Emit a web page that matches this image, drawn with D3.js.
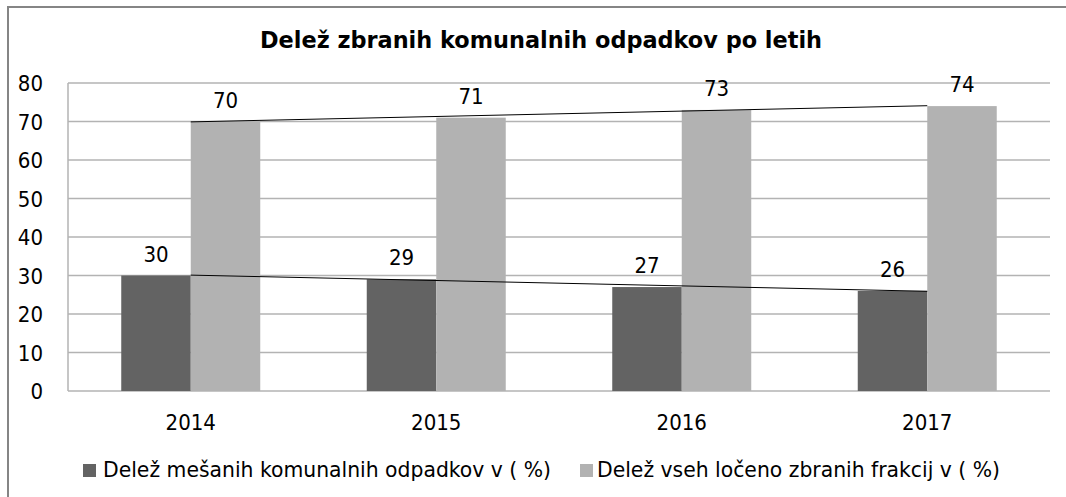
<!DOCTYPE html>
<html><head><meta charset="utf-8">
<script src="https://cdn.jsdelivr.net/npm/d3@7"></script>
<style>body{margin:0;background:#fff}svg{display:block}</style>
</head><body>
<svg id="c" width="1066" height="497"></svg>
<script>
const title = "Delež zbranih komunalnih odpadkov po letih";
const years = ["2014", "2015", "2016", "2017"];
const mixed = [30, 29, 27, 26];
const separated = [70, 71, 73, 74];
const seriesNames = ["Delež mešanih komunalnih odpadkov v ( %)", "Delež vseh ločeno zbranih frakcij v ( %)"];
const yTicks = [0, 10, 20, 30, 40, 50, 60, 70, 80];
const colors = ["#636363", "#b2b2b2"];

const svg = d3.select("#c");
const font = "'DejaVu Sans Condensed', 'DejaVu Sans', sans-serif";
const L = 68, R = 1050, T = 83, B = 391;

// outer frame
svg.append("line").attr("x1", 8).attr("x2", 1066).attr("y1", 7).attr("y2", 7).attr("stroke", "#858585").attr("stroke-width", 2);
svg.append("line").attr("x1", 8).attr("x2", 8).attr("y1", 6).attr("y2", 497).attr("stroke", "#858585").attr("stroke-width", 2);

const x = d3.scaleBand().domain(years).range([L, R]).paddingInner(0).paddingOuter(0);
const y = d3.scaleLinear().domain([0, 80]).range([B, T]);
const barW = 69.5;

// gridlines
svg.append("g").selectAll("line").data(yTicks).join("line")
  .attr("x1", L).attr("x2", R).attr("y1", d => y(d)).attr("y2", d => y(d))
  .attr("stroke", "#b3b3b3").attr("stroke-width", 1.5);
svg.append("line").attr("x1", L).attr("x2", L).attr("y1", T).attr("y2", B).attr("stroke", "#b3b3b3").attr("stroke-width", 1.5);

// y axis labels
const yAxis = d3.axisLeft(y).tickValues(yTicks).tickSize(0).tickPadding(0);
const gy = svg.append("g").attr("transform", `translate(43,0)`).call(yAxis);
gy.select(".domain").remove();
gy.selectAll("text").attr("font-family", font).attr("font-size", 22).attr("fill", "#000").attr("dy", "0.36em");

// x labels
const xAxis = d3.axisBottom(x).tickSize(0).tickPadding(0);
const gx = svg.append("g").attr("transform", `translate(0,414)`).call(xAxis);
gx.select(".domain").remove();
gx.selectAll("text").attr("font-family", font).attr("font-size", 22).attr("fill", "#000").attr("dy", "0.72em");

const series = [mixed, separated];
series.forEach((vals, si) => {
  const g = svg.append("g");
  g.selectAll("rect").data(years).join("rect")
    .attr("x", d => x(d) + x.bandwidth() / 2 - barW + si * barW)
    .attr("width", barW)
    .attr("y", (d, i) => y(vals[i]))
    .attr("height", (d, i) => B - y(vals[i]))
    .attr("fill", colors[si]);
  g.selectAll("text").data(years).join("text")
    .attr("x", d => x(d) + x.bandwidth() / 2 - barW / 2 + si * barW)
    .attr("y", (d, i) => y(vals[i]) - 14)
    .attr("text-anchor", "middle")
    .attr("font-family", font).attr("font-size", 22).attr("fill", "#000")
    .text((d, i) => vals[i]);
});

// linear trendlines
series.forEach(vals => {
  const n = vals.length;
  const xs = d3.range(n);
  const mx = d3.mean(xs), my = d3.mean(vals);
  const slope = d3.sum(xs, (xi, i) => (xi - mx) * (vals[i] - my)) / d3.sum(xs, xi => (xi - mx) ** 2);
  const icpt = my - slope * mx;
  svg.append("line")
    .attr("x1", x(years[0]) + x.bandwidth() / 2)
    .attr("x2", x(years[n - 1]) + x.bandwidth() / 2)
    .attr("y1", y(icpt))
    .attr("y2", y(icpt + slope * (n - 1)))
    .attr("stroke", "#000").attr("stroke-width", 1);
});

// title
svg.append("text").attr("x", 260).attr("y", 48).attr("font-family", "'DejaVu Sans', sans-serif")
  .attr("font-weight", "bold").attr("font-size", 23).attr("fill", "#000")
  .attr("textLength", 562).attr("lengthAdjust", "spacingAndGlyphs").text(title);

// legend
const legend = [
  {sx: 83, tx: 103, len: 448},
  {sx: 580, tx: 597, len: 403}
];
legend.forEach((l, i) => {
  svg.append("rect").attr("x", l.sx).attr("y", 464).attr("width", 13).attr("height", 13).attr("fill", colors[i]);
  svg.append("text").attr("x", l.tx).attr("y", 477).attr("font-family", font).attr("font-size", 22).attr("fill", "#000")
    .attr("textLength", l.len).attr("lengthAdjust", "spacingAndGlyphs").text(seriesNames[i]);
});
</script>
</body></html>
